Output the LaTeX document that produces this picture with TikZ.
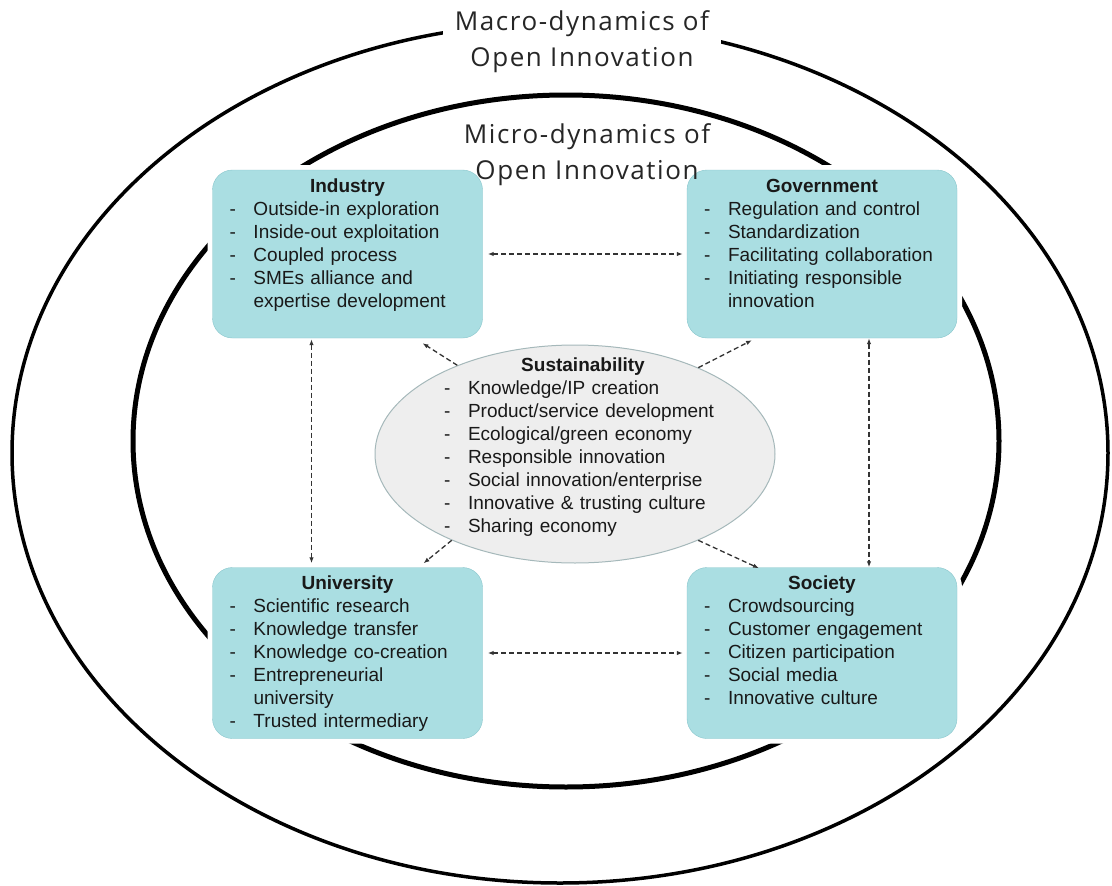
\documentclass[tikz,border=0pt]{standalone}
\usepackage{fontspec}
\setmainfont{Liberation Sans}
\newfontfamily\titlefont[LetterSpace=6]{Open Sans}
\usetikzlibrary{positioning,shapes.geometric,arrows.meta}
\definecolor{boxfill}{RGB}{170,222,226}
\definecolor{boxline}{RGB}{136,198,204}
\definecolor{susfill}{RGB}{238,238,238}
\definecolor{susline}{RGB}{165,184,186}
\definecolor{txt}{RGB}{25,25,25}
\newcommand{\hd}[1]{{\centering\bfseries\strut#1\par}}
\newcommand{\itm}[1]{\par\noindent\makebox[24pt][l]{-}#1}
\newcommand{\cnt}[1]{\par\noindent\hspace*{24pt}#1}

\begin{document}
\begin{tikzpicture}[x=1pt,y=-1pt,>={Latex[length=6pt,width=4.5pt]}]
    \tikzstyle{orgbox}=[draw=boxline, fill=boxfill, rounded corners=20pt, minimum width=270pt, inner sep=0pt, preaction={draw=white, line width=10pt}]
    \tikzstyle{orgtext}=[text width=236pt, align=left, inner sep=0pt, text=txt, font=\fontsize{19}{23}\selectfont]
    \tikzstyle{susell}=[ellipse, draw=susline, fill=susfill, line width=1pt, minimum width=400pt, minimum height=218pt, inner sep=0pt]
    \tikzstyle{title}=[align=center, text=black!85, font=\titlefont\fontsize{26}{36}\selectfont]
    \tikzstyle{link}=[<->, line width=1.3pt, dash pattern=on 5pt off 3pt, black!80]
    \tikzstyle{spoke}=[->, line width=1.3pt, dash pattern=on 5pt off 3pt, black!80]
    \def\rowtop{254}
    \def\rowbot{653}

    \useasboundingbox (0,0) rectangle (1112,886);

    \draw[line width=3.5pt] (560,453) ellipse [x radius=548pt, y radius=430pt];
    \draw[line width=5pt] (566,441) ellipse [x radius=433pt, y radius=346pt];

    \node[title, fill=white, inner xsep=12pt] (macro) at (582,42) {Macro-dynamics of\\Open Innovation};

    \node[orgbox, minimum height=168pt] (ind) at (347.5,\rowtop) {};
    \node[orgbox, minimum height=168pt] (gov) at (822,\rowtop) {};
    \node[orgbox, minimum height=171pt] (uni) at (347.5,\rowbot) {};
    \node[orgbox, minimum height=171pt] (soc) at (822,\rowbot) {};
    \node[susell] (sus) at (575,454) {};

    \node[title] (micro) at (587,155) {Micro-dynamics of\\Open Innovation};

    \node[orgtext, below=6pt of ind.north] (indt) {\hd{Industry}\itm{Outside-in exploration}\itm{Inside-out exploitation}\itm{Coupled process}\itm{SMEs alliance and}\cnt{expertise development}};
    \node[orgtext, below=6pt of gov.north] (govt) {\hd{Government}\itm{Regulation and control}\itm{Standardization}\itm{Facilitating collaboration}\itm{Initiating responsible}\cnt{innovation}};
    \node[orgtext, below=6pt of uni.north] (unit) {\hd{University}\itm{Scientific research}\itm{Knowledge transfer}\itm{Knowledge co-creation}\itm{Entrepreneurial}\cnt{university}\itm{Trusted intermediary}};
    \node[orgtext, below=6pt of soc.north] (soct) {\hd{Society}\itm{Crowdsourcing}\itm{Customer engagement}\itm{Citizen participation}\itm{Social media}\itm{Innovative culture}};
    \node[orgtext, text width=278pt, below=11pt of sus.north, xshift=8pt] (sust) {\hd{Sustainability}\itm{Knowledge/IP creation}\itm{Product/service development}\itm{Ecological/green economy}\itm{Responsible innovation}\itm{Social innovation/enterprise}\itm{Innovative \& trusting culture}\itm{Sharing economy}};

    \draw[link] ([xshift=5pt]ind.east) -- ([xshift=-4pt]gov.west);
    \draw[link] ([xshift=5pt]uni.east) -- ([xshift=-4pt]soc.west);
    \draw[link] ([xshift=-36pt,yshift=-1pt]ind.south) -- ([xshift=-36pt,yshift=4pt]uni.north);
    \draw[link] ([xshift=47pt]gov.south) -- ([xshift=47pt]soc.north);

    \draw[spoke] (sus.143) -- ([xshift=75pt,yshift=-5pt]ind.south);
    \draw[spoke] (sus.35) -- ([xshift=-70pt,yshift=-2pt]gov.south);
    \draw[spoke] (sus.215) -- ([xshift=76pt,yshift=4pt]uni.north);
    \draw[spoke] (sus.-35) -- ([xshift=-63pt,yshift=-1pt]soc.north);
\end{tikzpicture}
\end{document}
